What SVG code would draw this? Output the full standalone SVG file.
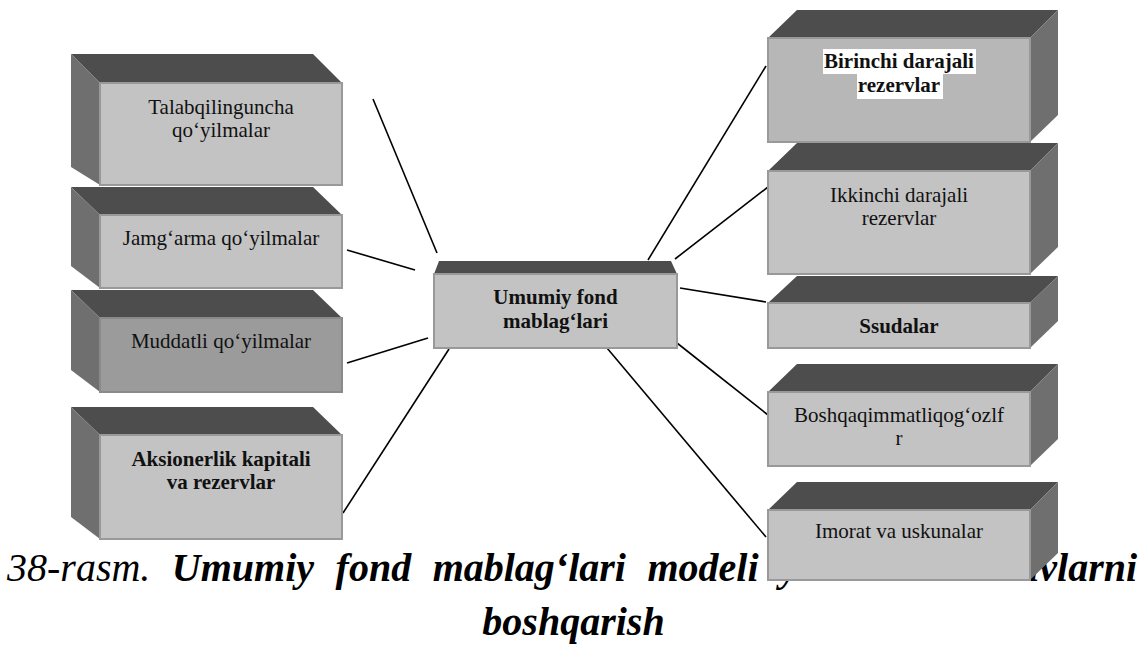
<svg xmlns="http://www.w3.org/2000/svg" width="1147" height="645" viewBox="0 0 1147 645">
  <style>
    .top { fill: #4d4d4d; }
    .side { fill: #6f6f6f; }
    .front { fill: #c3c3c3; stroke: #999999; stroke-width: 2; }
    .front-dark { fill: #9b9b9b; stroke: #8a8a8a; stroke-width: 2; }
    .front-mid { fill: #b7b7b7; stroke: #999999; stroke-width: 2; }
    .lbl { font-size: 21px; fill: #111111; text-anchor: middle; }
    .bold { font-weight: bold; }
    .cap { font-size: 40px; font-style: italic; fill: #000000; }
    .conn { stroke: #000000; stroke-width: 1.6; fill: none; }
  </style>
  <rect width="1147" height="645" fill="#ffffff"/>

  <g font-family="Liberation Serif, Times New Roman, serif">
  <!-- figure caption (partly covered by the lowest right-hand block) -->
  <g id="caption">
    <text class="cap" x="7" y="581" word-spacing="11.5">38-rasm.<tspan font-weight="bold"> Umumiy fond mablag‘lari modeli yordamida aktivlarni</tspan></text>
    <text class="cap" x="573.5" y="635" font-weight="bold" text-anchor="middle">boshqarish</text>
  </g>

  <!-- connectors from the central fund block -->
  <g id="connectors">
    <line class="conn" x1="373" y1="99" x2="437" y2="253"/>
    <line class="conn" x1="347" y1="250" x2="415" y2="270"/>
    <line class="conn" x1="347" y1="363" x2="428" y2="338"/>
    <line class="conn" x1="343" y1="513" x2="449" y2="349"/>
    <line class="conn" x1="648" y1="260" x2="766" y2="66"/>
    <line class="conn" x1="675" y1="259" x2="768" y2="187"/>
    <line class="conn" x1="680" y1="288" x2="766" y2="302"/>
    <line class="conn" x1="677" y1="343" x2="768" y2="415"/>
    <line class="conn" x1="607" y1="348" x2="766" y2="537"/>
  </g>

  <!-- left column: sources of funds -->
  <g id="talabqilinguncha">
    <polygon class="top" points="71,54 313,54 342,83 100,83"/>
    <polygon class="side" points="71,54 100,83 100,185 71,167"/>
    <rect class="front" x="100" y="83" width="242" height="102"/>
    <text class="lbl" x="221" y="114">Talabqilinguncha</text>
    <text class="lbl" x="221" y="137">qo‘yilmalar</text>
  </g>

  <g id="jamgarma">
    <polygon class="top" points="71,187 313,187 342,215 100,215"/>
    <polygon class="side" points="71,187 100,215 100,288 71,266"/>
    <rect class="front" x="100" y="215" width="242" height="73"/>
    <text class="lbl" x="221" y="245">Jamg‘arma qo‘yilmalar</text>
  </g>

  <g id="muddatli">
    <polygon class="top" points="71,290 313,290 342,318 100,318"/>
    <polygon class="side" points="71,290 100,318 100,392 71,370"/>
    <rect class="front-dark" x="100" y="318" width="242" height="74"/>
    <text class="lbl" x="221" y="348">Muddatli qo‘yilmalar</text>
  </g>

  <g id="aksionerlik">
    <polygon class="top" points="71,407 313,407 342,435 100,435"/>
    <polygon class="side" points="71,407 100,435 100,539 71,517"/>
    <rect class="front" x="100" y="435" width="242" height="104"/>
    <text class="lbl bold" x="221" y="466">Aksionerlik kapitali</text>
    <text class="lbl bold" x="221" y="489">va rezervlar</text>
  </g>

  <!-- central block -->
  <g id="umumiy-fond">
    <polygon class="top" points="439,261 671,261 677,274 434,274"/>
    <rect class="front" x="434" y="274" width="243" height="74"/>
    <text class="lbl bold" x="555.5" y="304">Umumiy fond</text>
    <text class="lbl bold" x="555.5" y="328">mablag‘lari</text>
  </g>

  <!-- right column: uses of funds -->
  <g id="birinchi">
    <polygon class="top" points="797,10 1058,10 1030,38 768,38"/>
    <polygon class="side" points="1030,38 1058,10 1058,115 1030,142"/>
    <rect class="front-mid" x="768" y="38" width="262" height="104"/>
    <rect x="823" y="49" width="153" height="25" fill="#ffffff"/>
    <rect x="857" y="74" width="86" height="25" fill="#ffffff"/>
    <text class="lbl bold" x="899" y="68">Birinchi darajali</text>
    <text class="lbl bold" x="899" y="92">rezervlar</text>
  </g>

  <g id="ikkinchi">
    <polygon class="top" points="797,143 1058,143 1030,171 768,171"/>
    <polygon class="side" points="1030,171 1058,143 1058,247 1030,274"/>
    <rect class="front" x="768" y="171" width="262" height="103"/>
    <text class="lbl" x="899" y="202">Ikkinchi darajali</text>
    <text class="lbl" x="899" y="225">rezervlar</text>
  </g>

  <g id="ssudalar">
    <polygon class="top" points="797,276 1058,276 1030,303 768,303"/>
    <polygon class="side" points="1030,303 1058,276 1058,321 1030,348"/>
    <rect class="front" x="768" y="303" width="262" height="45"/>
    <text class="lbl bold" x="899" y="333">Ssudalar</text>
  </g>

  <g id="boshqa">
    <polygon class="top" points="797,364 1058,364 1030,392 768,392"/>
    <polygon class="side" points="1030,392 1058,364 1058,439 1030,466"/>
    <rect class="front" x="768" y="392" width="262" height="74"/>
    <text class="lbl" x="899" y="422">Boshqaqimmatliqog‘ozlf</text>
    <text class="lbl" x="899" y="445">r</text>
  </g>

  <g id="imorat">
    <polygon class="top" points="797,482 1058,482 1030,510 768,510"/>
    <polygon class="side" points="1030,510 1058,482 1058,553 1030,580"/>
    <rect class="front" x="768" y="510" width="262" height="70"/>
    <text class="lbl" x="899" y="538">Imorat va uskunalar</text>
  </g>
  </g>
</svg>
